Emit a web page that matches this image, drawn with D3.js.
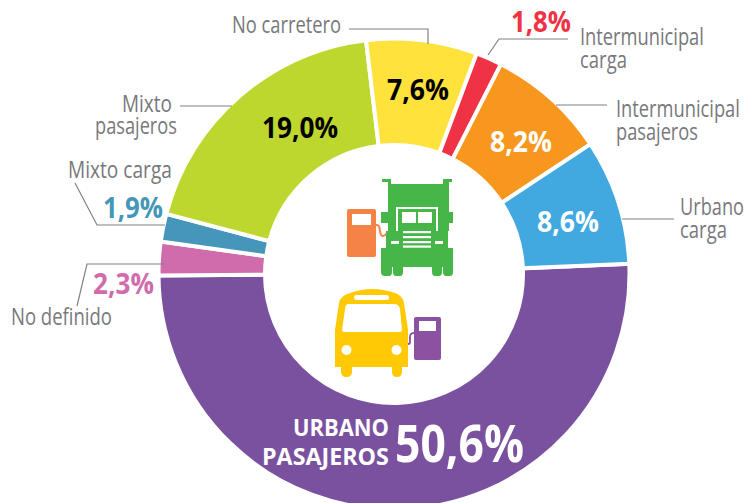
<!DOCTYPE html>
<html><head><meta charset="utf-8">
<script src="https://cdn.jsdelivr.net/npm/d3@7/dist/d3.min.js"></script>
<style>html,body{margin:0;padding:0;background:#fff}svg{display:block}text{font-family:"Open Sans",sans-serif}</style>
</head><body><svg id="c" width="746" height="503" viewBox="0 0 746 503"></svg>
<script>
const categories=["Urbano pasajeros","No definido","Mixto carga","Mixto pasajeros","No carretero","Intermunicipal carga","Intermunicipal pasajeros","Urbano carga"];
const shares=[50.6,2.3,1.9,19.0,7.6,1.8,8.2,8.6];
const colours=["#7a519f","#d06cab","#4596b8","#bdd72e","#ffe23c","#ef3345","#f8971d","#42a9e0"];
const valueColours=["#fff","#d06cab","#4596b8","#000","#000","#ef3345","#fff","#fff"];

const svg=d3.select("#c");
const cx=394,cy=274,R=235.5,r=129;
const start=87.5*Math.PI/180;
const pie=d3.pie().sort(null).value(d=>d).startAngle(start).endAngle(start+2*Math.PI);
const arc=d3.arc().innerRadius(r).outerRadius(R);
const g=svg.append("g").attr("transform",`translate(${cx},${cy})`);
g.selectAll("path").data(pie(shares)).join("path")
  .attr("d",arc).attr("fill",(d,i)=>colours[i]).attr("stroke","#fff").attr("stroke-width",4);

// leader lines
const leaders=[[[349,29],[428,29],[428,44]],[[180,106],[232,106]],[[75,183],[97,225],[165,225]],
 [[77,306],[87,264],[164,264]],[[488,55],[499,39],[568,39]],[[556,105],[607,105]],[[622,219],[674,219]]];
svg.append("g").selectAll("path").data(leaders).join("path")
  .attr("d",d3.line()).attr("fill","none").attr("stroke","#808285").attr("stroke-width",1.2);

// text helper: left, right, baseline, size; narrows the text to the span it has in the picture
function put(s,x0,x1,y,size,fill,weight){
  const t=svg.append("text").attr("font-size",size).attr("fill",fill).attr("font-weight",weight||400).text(s);
  const w=t.node().getComputedTextLength();
  t.attr("transform",`translate(${x0},${y}) scale(${(x1-x0)/w},1)`);
}
const grey="#77787b";
const nameRows=[["No carretero",232,341,33],["Mixto",122,172,112],["pasajeros",95,177,134],["Mixto carga",68,172,178],
 ["No definido",11,112,325],["Intermunicipal",580,704,45],["carga",580,627,68],["Intermunicipal",616,740,117],
 ["pasajeros",616,698,140],["Urbano",680,744,215],["carga",680,727,238]];
nameRows.forEach(d=>put(d[0],d[1],d[2],d[3],23,grey,400));
put("URBANO",293,389,436,24,"#fff",700);
put("PASAJEROS",262,389,465,24,"#fff",700);

const fmt=v=>v.toFixed(1).replace(".",",")+"%";
const valueSpots=[[395,524,462,52],[93,154,294,29],[103,163,218,29],[262,338,138,29],[387,449,100,29],[511,571,32,29],[490,552,152,29],[537,599,232,29]];
shares.forEach((v,i)=>{const p=valueSpots[i];put(fmt(v),p[0],p[1],p[2],p[3],valueColours[i],700);});

// icons
const ic=svg.append("g");
// orange pump
ic.append("path").attr("d","M376 225C382 224 378 236 383 236C385 236 386 234 388 232").attr("fill","none").attr("stroke","#f58345").attr("stroke-width",2);
ic.append("rect").attr("x",347).attr("y",209).attr("width",29).attr("height",48).attr("rx",2).attr("fill","#f58345");
ic.append("rect").attr("x",352).attr("y",214).attr("width",19).attr("height",11).attr("fill","#fff");
// truck
ic.append("path").attr("fill","#46b649").attr("d","M382 179H391V184H443V179H452V182H449V212H453V223H449V231H448V248H453V272Q453 276 450 276H446Q443 276 443 272V267H442V272Q442 276 439 276H435Q432 276 432 272V267H403V272Q403 276 400 276H396Q393 276 393 272V267H392V272Q392 276 389 276H385Q381 276 381 272V248H386V231H388V223H381V212H388V182H382Z");
const tw=(x,y,w,h)=>ic.append("rect").attr("x",x).attr("y",y).attr("width",w).attr("height",h).attr("fill","#fff");
tw(396,207,42,2);tw(396,207,2,24);tw(436,207,2,24);
tw(402,212,14,11);tw(418,212,14,11);
[231,236,241,245.5].forEach(y=>tw(403,y,28,2.2));
tw(391,241,8,3);tw(435,241,8,3);
// bus
const yb="#ffc905";
ic.append("path").attr("fill",yb).attr("d","M335 367V330L339 303Q340 296 350 293Q372 285 395 293Q403 296 404 303L408 330V367H402V372Q402 377 397 377Q392 377 392 372V367H352V372Q352 377 346.500 377Q341 377 341 372V367Z");
ic.append("rect").attr("x",354).attr("y",295).attr("width",35).attr("height",5).attr("rx",2.500).attr("fill","#fff");
ic.append("path").attr("fill","#fff").attr("d","M349 304H394Q399 304 400 309L402 330Q402 332 400 332H344Q342 332 342 330L345 309Q345 304 349 304Z");
ic.append("circle").attr("cx",346.500).attr("cy",350).attr("r",5).attr("fill","#fff");
ic.append("circle").attr("cx",396.500).attr("cy",350).attr("r",5).attr("fill","#fff");
// purple pump
ic.append("path").attr("d","M414 333C409 333 410 337 410 342C410 343 409 344 408 344").attr("fill","none").attr("stroke","#8a52a0").attr("stroke-width",1.8);
ic.append("rect").attr("x",414).attr("y",317).attr("width",27).attr("height",43).attr("rx",2).attr("fill","#8a52a0");
ic.append("rect").attr("x",419).attr("y",321).attr("width",17).attr("height",10).attr("fill","#fff");
</script></body></html>
